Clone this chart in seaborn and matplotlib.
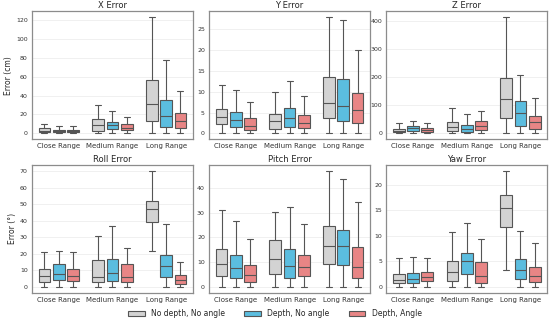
import pandas as pd
import numpy as np
import matplotlib
matplotlib.use("Agg")
import matplotlib.pyplot as plt
import seaborn as sns

# five-number summaries: [min, q1, median, q3, max]
# per condition, one entry per range (Close, Medium, Long)
ranges = ["Close Range", "Medium Range", "Long Range"]
conditions = ["No depth, No angle", "Depth, No angle", "Depth, Angle"]
titles = ["X Error", "Y Error", "Z Error", "Roll Error", "Pitch Error", "Yaw Error"]

x_gray = [[0, 1.4, 2.8, 5.2, 9.7], [0, 2.8, 8.7, 15.6, 30.2], [0, 13.2, 30.9, 56.9, 123]]
x_blue = [[0, 1.0, 2.0, 3.5, 7.6], [0, 4.5, 8.7, 12.5, 24], [0, 6.9, 18.7, 35.4, 77.3]]
x_red = [[0, 1.4, 2.4, 3.8, 7.6], [0, 3.5, 6.2, 9.7, 17.7], [0, 5.2, 13.2, 21.2, 44.7]]

y_gray = [[0, 2.2, 3.9, 5.9, 11.6], [0, 1.1, 2.9, 4.7, 10.0], [0, 3.6, 7.3, 13.6, 28.0]]
y_blue = [[0, 1.6, 3.3, 5.2, 10.4], [0, 1.6, 3.7, 6.0, 12.6], [0, 3.0, 6.6, 13.0, 27.4]]
y_red = [[0, 0.9, 1.8, 3.7, 7.6], [0, 1.2, 2.4, 4.4, 9.0], [0, 2.4, 5.7, 9.7, 20.1]]

z_gray = [[0, 4, 10, 17, 37], [0, 8, 22, 41, 89], [0, 55, 121, 199, 415]]
z_blue = [[0, 8, 18, 28, 44], [0, 6, 15, 31, 68], [0, 28, 72, 115, 207]]
z_red = [[0, 5, 12, 18, 37], [0, 11, 27, 44, 81], [0, 16, 39, 61, 126]]

roll_gray = [[0, 3.0, 6.8, 10.9, 21.0], [0, 3.0, 6.2, 16.3, 30.6], [21.9, 39.5, 47.3, 52.0, 70.5]]
roll_blue = [[0, 4.0, 8.1, 13.7, 21.8], [0, 3.9, 8.2, 17.2, 37.2], [0, 6.2, 12.9, 19.2, 38.0]]
roll_red = [[0, 3.6, 6.4, 10.6, 21.2], [0, 3.2, 6.2, 13.7, 23.7], [0, 1.8, 4.1, 7.1, 15.3]]

pitch_gray = [[0, 4.4, 9.4, 15.5, 31.1], [0, 5.2, 11.2, 18.8, 30.1], [0, 9.2, 16.5, 24.5, 47.0]]
pitch_blue = [[0, 3.6, 7.5, 12.9, 26.6], [0, 3.6, 8.3, 15.2, 32.4], [0, 8.8, 16.6, 23.0, 43.8]]
pitch_red = [[0, 2.1, 4.9, 9.0, 19.3], [0, 4.4, 8.0, 12.8, 25.3], [0, 3.7, 8.1, 16.1, 34.4]]

yaw_gray = [[0, 0.7, 1.4, 2.6, 5.6], [0, 1.2, 2.9, 5.1, 10.8], [3.4, 11.8, 15.4, 18.1, 22.8]]
yaw_blue = [[0, 0.8, 1.6, 2.8, 5.8], [0, 2.6, 5.0, 6.6, 12.6], [0, 1.6, 3.4, 5.4, 11.0]]
yaw_red = [[0, 1.1, 1.9, 3.0, 5.7], [0, 0.7, 2.1, 4.8, 9.4], [0, 0.9, 2.2, 4.0, 8.7]]

panels = {
    "X Error": [x_gray, x_blue, x_red],
    "Y Error": [y_gray, y_blue, y_red],
    "Z Error": [z_gray, z_blue, z_red],
    "Roll Error": [roll_gray, roll_blue, roll_red],
    "Pitch Error": [pitch_gray, pitch_blue, pitch_red],
    "Yaw Error": [yaw_gray, yaw_blue, yaw_red],
}

rows = []
for title, series in panels.items():
    for cond, groups in zip(conditions, series):
        for rng, vals in zip(ranges, groups):
            for v in vals:
                rows.append((title, rng, cond, v))
df = pd.DataFrame(rows, columns=["panel", "range", "condition", "value"])

palette = {"No depth, No angle": "#D3D3D3", "Depth, No angle": "#45C8F5", "Depth, Angle": "#F87474"}

sns.set_style("whitegrid")
plt.rcParams["font.family"] = ["DejaVu Sans"]

fig, axes = plt.subplots(2, 3, figsize=(5.5, 3.2), dpi=100)
for ax, title in zip(axes.flat, titles):
    sub = df[df["panel"] == title]
    sns.boxplot(data=sub, x="range", y="value", hue="condition", hue_order=conditions,
                order=ranges, palette=palette, whis=(0, 100), showfliers=False,
                width=0.8, gap=0.18, linecolor="#555555", linewidth=0.8, ax=ax)
    ax.set_title(title, fontsize=6, pad=2)
    ax.set_xlabel("")
    ax.set_ylabel("")
    ax.tick_params(axis="both", labelsize=4.5, pad=1, length=2, labelcolor="#333333")
    ax.tick_params(axis="x", labelsize=5)
    ax.grid(axis="x", visible=False)
    ax.grid(axis="y", color="#eeeeee", linewidth=0.6)
    for s in ax.spines.values():
        s.set_color("#8c8c8c")
        s.set_linewidth(0.9)
    ax.get_legend().remove()

axes[0, 0].set_ylabel("Error (cm)", fontsize=5.5, labelpad=2)
axes[1, 0].set_ylabel("Error (°)", fontsize=5.5, labelpad=2)

handles, labels = axes[0, 0].get_legend_handles_labels()
fig.legend(handles, labels, loc="lower center", ncol=3, frameon=False, fontsize=5.5,
           bbox_to_anchor=(0.5, -0.015), handlelength=2.2, handleheight=0.7, columnspacing=2.5)

plt.subplots_adjust(left=0.058, right=0.995, top=0.965, bottom=0.085, wspace=0.1, hspace=0.2)
plt.savefig("out.png", dpi=100)
